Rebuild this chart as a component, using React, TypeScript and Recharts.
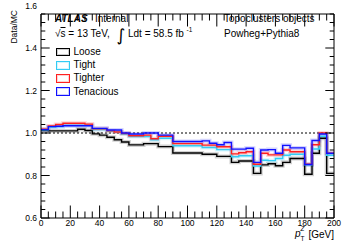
import { LineChart, Line, XAxis, YAxis, ReferenceLine, Legend } from "recharts";

// bin edges in GeV (5 GeV bins, last edge closes the histogram)
const binEdges = [
  0, 5, 10, 15, 20, 25, 30, 35, 40, 45, 50, 55, 60, 65, 70, 75, 80, 85, 90, 95,
  100, 105, 110, 115, 120, 125, 130, 135, 140, 145, 150, 155, 160, 165, 170, 175, 180, 185, 190, 195, 200,
];

const loose = [
  1.012, 1.01, 1.01, 1.01, 1.01, 1.018, 1.012, 0.996, 0.99, 0.98,
  0.968, 0.958, 0.944, 0.944, 0.95, 0.95, 0.936, 0.936, 0.906, 0.906,
  0.906, 0.906, 0.9, 0.9, 0.89, 0.89, 0.862, 0.868, 0.868, 0.81,
  0.85, 0.855, 0.846, 0.862, 0.88, 0.88, 0.806, 0.905, 0.975, 0.81,
];
const tight = [
  1.015, 1.028, 1.03, 1.036, 1.036, 1.036, 1.036, 1.016, 1.016, 1.008,
  1.005, 0.995, 0.983, 0.983, 0.983, 0.968, 0.975, 0.975, 0.94, 0.94,
  0.94, 0.94, 0.932, 0.932, 0.922, 0.922, 0.888, 0.893, 0.893, 0.845,
  0.872, 0.87, 0.88, 0.895, 0.9, 0.9, 0.85, 0.925, 0.985, 0.895,
];
const tighter = [
  1.018, 1.033, 1.04, 1.046, 1.046, 1.046, 1.042, 1.02, 1.02, 1.01,
  1.005, 0.998, 0.987, 0.987, 0.99, 0.973, 0.985, 0.985, 0.95, 0.95,
  0.95, 0.95, 0.943, 0.943, 0.935, 0.935, 0.902, 0.907, 0.912, 0.853,
  0.905, 0.897, 0.897, 0.92, 0.912, 0.912, 0.853, 0.945, 1.0, 0.905,
];
const tenacious = [
  1.016, 1.03, 1.032, 1.034, 1.034, 1.034, 1.034, 1.022, 1.022, 1.014,
  1.014, 1.0, 0.995, 0.995, 1.0, 1.0, 0.99, 0.99, 0.96, 0.96,
  0.96, 0.96, 0.963, 0.952, 0.945, 0.955, 0.924, 0.924, 0.928, 0.862,
  0.92, 0.922, 0.905, 0.942, 0.93, 0.93, 0.852, 0.965, 0.995, 0.905,
];

const xTicks = [
  0, 5, 10, 15, 20, 25, 30, 35, 40, 45, 50, 55, 60, 65, 70, 75, 80, 85, 90, 95,
  100, 105, 110, 115, 120, 125, 130, 135, 140, 145, 150, 155, 160, 165, 170, 175, 180, 185, 190, 195, 200,
];
const yTicks = [
  0.6, 0.64, 0.68, 0.72, 0.76, 0.8, 0.84, 0.88, 0.92, 0.96, 1.0, 1.04, 1.08,
  1.12, 1.16, 1.2, 1.24, 1.28, 1.32, 1.36, 1.4, 1.44, 1.48, 1.52, 1.56, 1.6,
];
const yMax = 1.56;

const series = [
  { key: "loose", name: "Loose", color: "#000000" },
  { key: "tight", name: "Tight", color: "#33ccf5" },
  { key: "tighter", name: "Tighter", color: "#ff2020" },
  { key: "tenacious", name: "Tenacious", color: "#1010ff" },
];

// step histogram: each row is a bin's low edge, the last row repeats the last bin
const rows = binEdges.map((x, i) => {
  const j = Math.min(i, loose.length - 1);
  return { x, loose: loose[j], tight: tight[j], tighter: tighter[j], tenacious: tenacious[j] };
});

const FONT = "'Liberation Sans', Arial, Helvetica, sans-serif";

const isMajorX = (v: number) => v % 20 === 0;
const isMajorY = (v: number) => Math.round(v * 100 - 60) % 20 === 0;

function BottomTick({ x, y, payload }: any) {
  const v = payload.value;
  const major = isMajorX(v);
  return (
    <g>
      <line x1={x} x2={x} y1={y} y2={y - (major ? 12.5 : 6.5)} stroke="#000" strokeWidth={1} />
      {major && (
        <text x={x} y={y + 7.5} textAnchor="middle" fontSize={8.5} fill="#000">
          {v}
        </text>
      )}
    </g>
  );
}

function TopTick({ x, y, payload }: any) {
  const major = isMajorX(payload.value);
  return <line x1={x} x2={x} y1={y} y2={y + (major ? 12.5 : 6.5)} stroke="#000" strokeWidth={1} />;
}

function LeftTick({ x, y, payload }: any) {
  const v = payload.value;
  const major = isMajorY(v);
  return (
    <g>
      {v <= yMax + 1e-6 && (
        <line x1={x} x2={x + (major ? 8.7 : 4.3)} y1={y} y2={y} stroke="#000" strokeWidth={1} />
      )}
      {major && (
        <text x={x - 4} y={y + 3} textAnchor="end" fontSize={8.5} fill="#000">
          {v.toFixed(1)}
        </text>
      )}
    </g>
  );
}

function RightTick({ x, y, payload }: any) {
  const v = payload.value;
  if (v > yMax + 1e-6) return <g />;
  const major = isMajorY(v);
  return <line x1={x} x2={x - (major ? 8.7 : 4.3)} y1={y} y2={y} stroke="#000" strokeWidth={1} />;
}

// legend drawn from the series list (band lines are left out)
function LegendBoxes() {
  return (
    <div style={{ fontFamily: FONT }}>
      {series.map((s) => (
        <div key={s.key} style={{ display: "flex", alignItems: "center", height: 13.2 }}>
          <span
            style={{
              width: 14,
              height: 8.5,
              boxSizing: "border-box",
              border: `1.5px solid ${s.color}`,
              boxShadow: `inset 0 0 0 1px ${s.color}33`,
              marginRight: 3.5,
            }}
          />
          <span style={{ fontSize: 10, color: "#000", lineHeight: "10px" }}>{s.name}</span>
        </div>
      ))}
    </div>
  );
}

export default function App() {
  return (
    <div style={{ position: "absolute", left: 0, top: 0, width: 342, height: 243, background: "#fff", fontFamily: FONT }}>
      <LineChart width={342} height={243} data={rows} margin={{ top: 0, right: 0, bottom: 0, left: 0 }}>
        <XAxis
          xAxisId="b"
          orientation="bottom"
          type="number"
          dataKey="x"
          domain={[0, 200]}
          ticks={xTicks}
          interval={0}
          height={25}
          tickSize={0}
          tickMargin={0}
          tickLine={false}
          axisLine={{ stroke: "#000", strokeWidth: 1 }}
          tick={BottomTick}
        />
        <XAxis
          xAxisId="t"
          orientation="top"
          type="number"
          dataKey="x"
          domain={[0, 200]}
          ticks={xTicks}
          interval={0}
          height={14}
          tickSize={0}
          tickMargin={0}
          tickLine={false}
          axisLine={{ stroke: "#000", strokeWidth: 1 }}
          tick={TopTick}
        />
        <YAxis
          yAxisId="l"
          orientation="left"
          type="number"
          domain={[0.6, yMax]}
          allowDataOverflow
          ticks={yTicks}
          interval={0}
          width={41}
          tickSize={0}
          tickMargin={0}
          tickLine={false}
          axisLine={{ stroke: "#000", strokeWidth: 1 }}
          tick={LeftTick}
        />
        <YAxis
          yAxisId="r"
          orientation="right"
          type="number"
          domain={[0.6, yMax]}
          allowDataOverflow
          ticks={yTicks}
          interval={0}
          width={8}
          tickSize={0}
          tickMargin={0}
          tickLine={false}
          axisLine={{ stroke: "#000", strokeWidth: 1 }}
          tick={RightTick}
        />
        <ReferenceLine xAxisId="b" yAxisId="l" y={1} stroke="#000" strokeWidth={1} strokeDasharray="2 2" />
        {series.map((s) => (
          <Line
            key={s.key + "-band"}
            xAxisId="b"
            yAxisId="l"
            type="stepAfter"
            dataKey={s.key}
            stroke={s.color}
            strokeOpacity={0.18}
            strokeWidth={4}
            dot={false}
            activeDot={false}
            legendType="none"
            isAnimationActive={false}
          />
        ))}
        {series.map((s) => (
          <Line
            key={s.key}
            xAxisId="b"
            yAxisId="l"
            type="stepAfter"
            dataKey={s.key}
            name={s.name}
            stroke={s.color}
            strokeWidth={1.4}
            dot={false}
            activeDot={false}
            isAnimationActive={false}
          />
        ))}
        <Legend
          layout="vertical"
          align="center"
          verticalAlign="middle"
          content={LegendBoxes}
          wrapperStyle={{ left: 56, top: 45.5, width: "auto", height: "auto" }}
        />
      </LineChart>
      <svg
        width={342}
        height={243}
        style={{ position: "absolute", left: 0, top: 0, pointerEvents: "none" }}
        fontFamily={FONT}
        fill="#000"
      >
        <text x={55} y={22} fontSize={10} fontWeight="bold" fontStyle="italic">ATLAS</text>
        <text x={95} y={22} fontSize={10}>Internal</text>
        <text x={55} y={37} fontSize={10}>
          √<tspan textDecoration="overline">s</tspan> = 13 TeV,
        </text>
        <text x={116.5} y={40.5} fontSize={17} fontFamily="'DejaVu Sans'">∫</text>
        <text x={128} y={37} fontSize={10}>Ldt = 58.5 fb</text>
        <text x={186.5} y={32} fontSize={6.5}>-1</text>
        <text x={224} y={22} fontSize={10}>Topoclusters objects</text>
        <text x={224} y={37} fontSize={10}>Powheg+Pythia8</text>
        <text transform="rotate(-90)" x={-10} y={16.5} textAnchor="end" fontSize={8.5}>Data/MC</text>
        <text x={295} y={237} fontSize={10} fontStyle="italic">p</text>
        <text x={300.5} y={230.8} fontSize={6.5} fontStyle="italic">Z</text>
        <text x={300.5} y={240.5} fontSize={6.5}>T</text>
        <text x={334} y={238} fontSize={10} textAnchor="end">[GeV]</text>
      </svg>
    </div>
  );
}
